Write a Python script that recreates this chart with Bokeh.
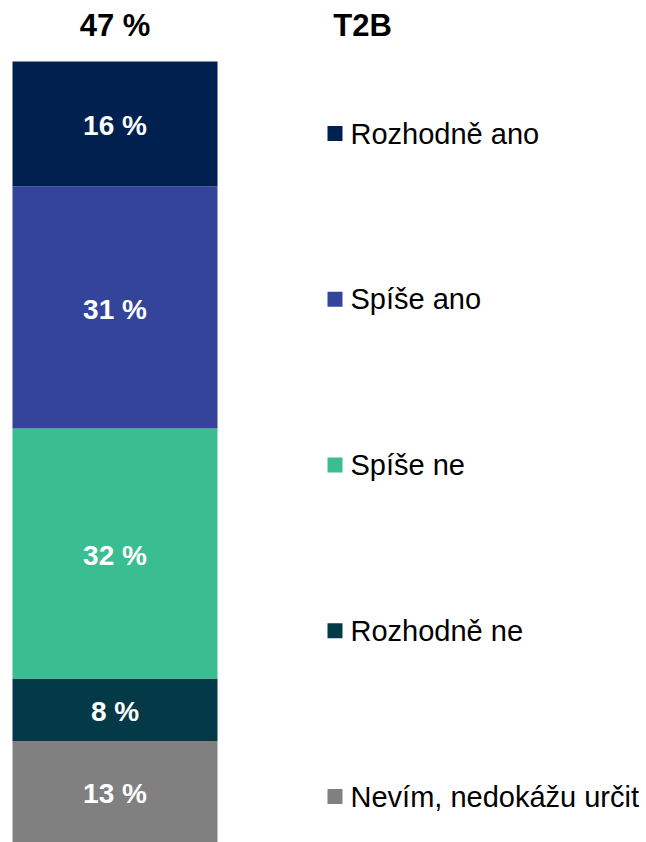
import numpy as np
from bokeh.plotting import figure
from bokeh.models import Range1d, ColumnDataSource
from bokeh.core.properties import value
from bokeh.embed import file_html
from bokeh.resources import INLINE

# Data (bottom to top of the stack)
categories = ["Nevím, nedokážu určit", "Rozhodně ne", "Spíše ne", "Spíše ano", "Rozhodně ano"]
values = [13, 8, 32, 31, 16]
colors = ["#808080", "#043a48", "#3bbd92", "#33449a", "#002050"]
t2b_label = "T2B"

W, H = 646, 842
PX_PER_PCT = 7.81  # pixels per percent
bar_center_px = 114.5
bar_width_px = 205

def py(ypix):
    return (H - ypix) / PX_PER_PCT

p = figure(width=W, height=H, x_range=Range1d(0, W), y_range=Range1d(0, H / PX_PER_PCT),
           output_backend="svg", toolbar_location=None, min_border=0)
p.axis.visible = False
p.grid.visible = False
p.outline_line_color = None
p.background_fill_color = "white"
p.border_fill_color = "white"

vals = np.array(values, dtype=float)
tops = np.cumsum(vals)
bottoms = tops - vals
src = ColumnDataSource(dict(
    x=[bar_center_px] * len(vals), bottom=bottoms, top=tops, color=colors,
    mid=(bottoms + tops) / 2, lab=[f"{int(v)} %" for v in vals],
))
p.vbar(x="x", bottom="bottom", top="top", width=bar_width_px, color="color", line_color=None, source=src)
p.text(x="x", y="mid", text="lab", source=src, text_color="white", text_align="center",
       text_baseline="middle", text_font=value("Liberation Sans"), text_font_style="bold",
       text_font_size="28px", y_offset=2)

# Header: T2B total
t2b = values[-1] + values[-2]
p.text(x=[bar_center_px], y=[py(25)], text=[f"{t2b} %"], text_color="black", text_align="center",
       text_baseline="middle", text_font=value("Liberation Sans"), text_font_style="bold",
       text_font_size="31px")
p.text(x=[362], y=[py(25)], text=[t2b_label], text_color="black", text_align="center",
       text_baseline="middle", text_font=value("Liberation Sans"), text_font_style="bold",
       text_font_size="31px")

# Legend (top to bottom)
leg_cats = categories[::-1]
leg_cols = colors[::-1]
leg_ypix = [133 + i * 165.75 for i in range(len(leg_cats))]
leg_y = [py(y) for y in leg_ypix]
p.scatter(x=[334.5] * len(leg_cats), y=leg_y, marker="square", size=15, color=leg_cols, line_color=None)
p.text(x=[350] * len(leg_cats), y=leg_y, text=leg_cats, text_color="black", text_align="left",
       text_baseline="middle", text_font=value("Liberation Sans"), text_font_size="29px")

open("out.html", "w").write(file_html(p, INLINE))
